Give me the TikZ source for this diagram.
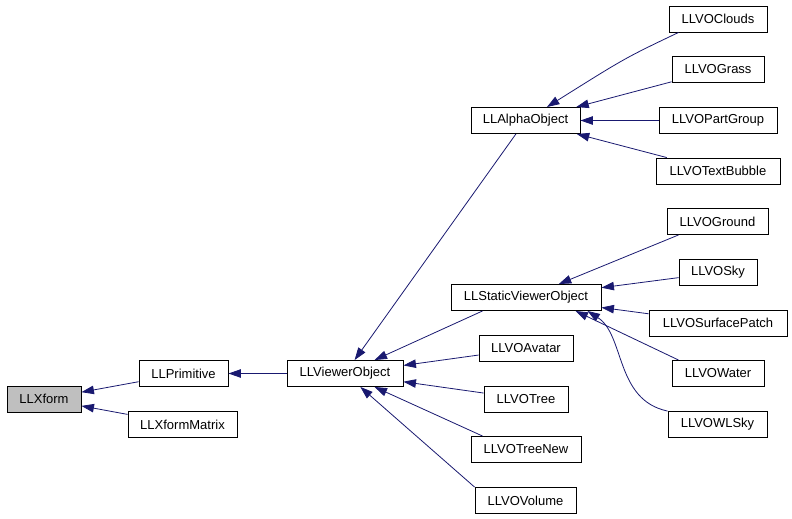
\documentclass[tikz,border=0pt]{standalone}
\usepackage{fontspec}
\setmainfont{Liberation Sans}
\usetikzlibrary{arrows.meta}
\definecolor{edgeblue}{RGB}{25,25,112}
\definecolor{rootgray}{RGB}{191,191,191}

\begin{document}
\begin{tikzpicture}[x=1pt, y=-1pt,
    cls/.style={draw=black, line width=0.9pt, fill=white, inner sep=0pt, minimum height=26pt, font=\fontsize{13}{15}\selectfont},
    inh/.style={edgeblue, line width=0.8pt, -{Triangle[length=12.5pt, width=8.5pt]}}]
    \useasboundingbox (0,0) rectangle (792,519);
    \node[cls, fill=rootgray, minimum width=74pt] (xf) at (44,399) {LLXform};
    \node[cls, minimum width=89pt] (prim) at (183.5,373.5) {LLPrimitive};
    \node[cls, minimum width=109pt] (xfm) at (182.5,424.5) {LLXformMatrix};
    \node[cls, minimum width=116pt] (vo) at (345,373.5) {LLViewerObject};
    \node[cls, minimum width=109pt] (alpha) at (525.5,120.5) {LLAlphaObject};
    \node[cls, minimum width=150pt] (svo) at (526,297.5) {LLStaticViewerObject};
    \node[cls, minimum width=94pt] (avatar) at (526,348.5) {LLVOAvatar};
    \node[cls, minimum width=84pt] (tree) at (526,399) {LLVOTree};
    \node[cls, minimum width=110pt] (treenew) at (526,449.5) {LLVOTreeNew};
    \node[cls, minimum width=101pt] (volume) at (525.5,500.5) {LLVOVolume};
    \node[cls, minimum width=98pt] (clouds) at (718,19) {LLVOClouds};
    \node[cls, minimum width=92pt] (grass) at (718,69.5) {LLVOGrass};
    \node[cls, minimum width=118pt] (partgroup) at (718,120.5) {LLVOPartGroup};
    \node[cls, minimum width=124pt] (textbubble) at (718,171) {LLVOTextBubble};
    \node[cls, minimum width=101pt] (ground) at (717.5,221.5) {LLVOGround};
    \node[cls, minimum width=78pt] (sky) at (718,272.5) {LLVOSky};
    \node[cls, minimum width=138pt] (surfpatch) at (718,323) {LLVOSurfacePatch};
    \node[cls, minimum width=92pt] (water) at (718,373.5) {LLVOWater};
    \node[cls, minimum width=99pt] (wlsky) at (717.5,424.5) {LLVOWLSky};
    \draw[inh] (prim) -- (xf);
    \draw[inh] (xfm) -- (xf);
    \draw[inh] (vo) -- (prim);
    \draw[inh] (alpha) -- (vo);
    \draw[inh] ([xshift=32pt]svo.south west) -- (vo);
    \draw[inh] (avatar) -- (vo);
    \draw[inh] (tree) -- (vo);
    \draw[inh] ([xshift=12pt]treenew.north west) -- (vo);
    \draw[inh] (volume.north west) -- (vo);
    \draw[inh] ([xshift=10pt]clouds.south west) .. controls (625,58) .. (alpha);
    \draw[inh] (grass) -- (alpha);
    \draw[inh] (partgroup) -- (alpha);
    \draw[inh] (textbubble) -- (alpha);
    \draw[inh] ([xshift=12pt]ground.south west) -- (svo);
    \draw[inh] (sky) -- (svo);
    \draw[inh] (surfpatch) -- (svo);
    \draw[inh] ([xshift=7pt]water.north west) -- ([xshift=-26pt]svo.south east);
    \draw[inh] (wlsky.north west) .. controls (615,400) and (625,335) .. ([xshift=-14pt]svo.south east);
\end{tikzpicture}
\end{document}
